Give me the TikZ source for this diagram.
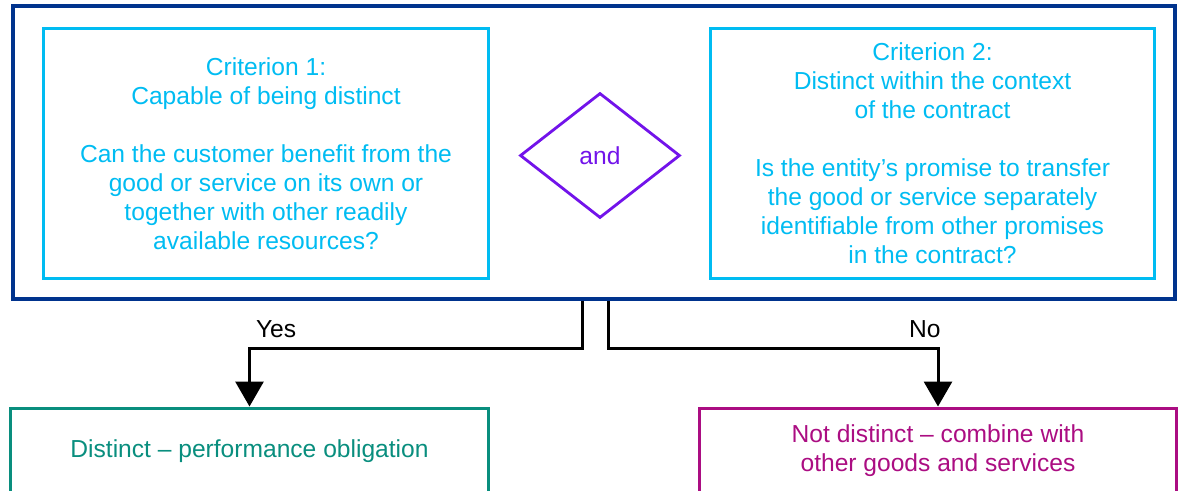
\documentclass[tikz,border=0pt]{standalone}
\usepackage{fontspec}
\setmainfont{Liberation Sans}
\usepackage{tikz}
\usetikzlibrary{shapes.geometric, arrows.meta}

\definecolor{kdarkblue}{HTML}{00338D}
\definecolor{kcyan}{HTML}{00BCF2}
\definecolor{kpurple}{HTML}{7213EA}
\definecolor{kteal}{HTML}{098E7E}
\definecolor{kmagenta}{HTML}{AB0D82}

\begin{document}
\begin{tikzpicture}[x=0.02cm, y=-0.02cm,
    every node/.style={font=\fontsize{14}{16.5}\selectfont, align=center},
    critbox/.style={rectangle, draw=kcyan, text=kcyan, line width=1.7pt, minimum width=8.92cm, minimum height=5.02cm},
    outcome/.style={rectangle, line width=1.7pt, minimum width=9.58cm, minimum height=1.72cm},
    flow/.style={-{Triangle[length=0.5cm, width=0.56cm]}, line width=1.7pt}]
    \useasboundingbox (0,0) rectangle (1182,490);
    \clip (0,0) rectangle (1182,490);

    % Frame and criteria
    \node (frame) [rectangle, draw=kdarkblue, line width=2pt, minimum width=23.24cm, minimum height=5.86cm] at (594,152.5) {};
    \node (crit1) [critbox] at (266,153.5) {Criterion 1:\\ Capable of being distinct\\[16.5pt] Can the customer benefit from the\\ good or service on its own or\\ together with other readily\\ available resources?};
    \node (and) [diamond, draw=kpurple, text=kpurple, line width=1.6pt, inner sep=0pt, minimum width=3.2cm, minimum height=2.5cm] at (600,155.5) {and};
    \node (crit2) [critbox, minimum width=8.9cm] at (932.5,153.5) {Criterion 2:\\ Distinct within the context\\ of the contract\\[16.5pt] Is the entity’s promise to transfer\\ the good or service separately\\ identifiable from other promises\\ in the contract?};

    % Outcomes
    \node (distinct) [outcome, draw=kteal, text=kteal] at (249.5,451) {Distinct -- performance obligation};
    \node (combine) [outcome, draw=kmagenta, text=kmagenta, minimum width=9.56cm] at (938,451) {Not distinct -- combine with\\ other goods and services};

    % Flows
    \draw[flow] ([xshift=-0.24cm]frame.south) -- ++(0,-0.96cm) -| node[pos=0.46, above=2pt] {Yes} (distinct.north);
    \draw[flow] ([xshift=0.28cm]frame.south) -- ++(0,-0.96cm) -| node[pos=0.48, above=2pt] {No} (combine.north);

\end{tikzpicture}
\end{document}
